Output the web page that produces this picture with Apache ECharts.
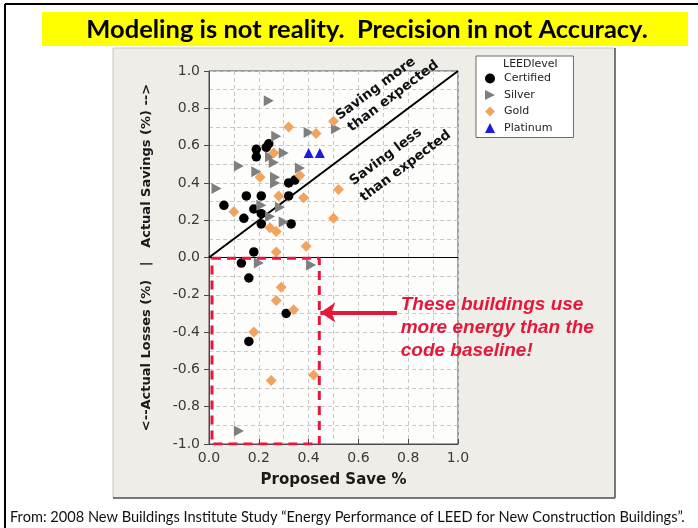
<!DOCTYPE html>
<html><head><meta charset="utf-8">
<script src="https://cdn.jsdelivr.net/npm/echarts@6/dist/echarts.min.js"></script>
<style>html,body{margin:0;padding:0;background:#fff}#c{width:698px;height:528px}</style>
</head><body><div id="c"></div>
<script>
const titleText = 'Modeling is not reality.  Precision in not Accuracy.';
const footerText = 'From: 2008 New Buildings Institute Study \u201cEnergy Performance of LEED for New Construction Buildings\u201d.';
const legendTitle = 'LEEDlevel';
const xAxisName = 'Proposed Save %';
const yAxisName = '<--Actual Losses (%)   |   Actual Savings (%) -->';
const seriesNames = ['Certified', 'Silver', 'Gold', 'Platinum'];

const certified = [[0.24,0.61],[0.23,0.59],[0.19,0.58],[0.19,0.54],[0.32,0.40],[0.345,0.415],
  [0.15,0.33],[0.21,0.33],[0.32,0.33],[0.06,0.28],[0.18,0.26],[0.21,0.235],[0.14,0.21],
  [0.21,0.18],[0.33,0.18],[0.18,0.03],[0.13,-0.03],[0.16,-0.11],[0.31,-0.30],[0.16,-0.45]];
const silver = [[0.24,0.84],[0.27,0.65],[0.40,0.67],[0.51,0.69],[0.30,0.56],[0.245,0.54],
  [0.26,0.51],[0.12,0.49],[0.19,0.46],[0.265,0.43],[0.265,0.40],[0.365,0.48],[0.03,0.37],
  [0.21,0.28],[0.285,0.27],[0.245,0.22],[0.30,0.19],[0.20,-0.03],[0.41,-0.04],[0.12,-0.93]];
const gold = [[0.32,0.70],[0.43,0.665],[0.50,0.73],[0.26,0.56],[0.205,0.43],[0.365,0.44],
  [0.52,0.365],[0.28,0.33],[0.38,0.32],[0.10,0.245],[0.50,0.21],[0.245,0.16],[0.27,0.14],
  [0.27,0.03],[0.39,0.06],[0.29,-0.16],[0.27,-0.23],[0.34,-0.28],[0.18,-0.40],[0.42,-0.63],[0.25,-0.66]];
const platinum = [[0.40,0.56],[0.445,0.56]];

const diagonal = [[0,0],[1,1]];
const zeroLine = [[0,0],[1,0]];
const lossBox = [[0.012,-0.004],[0.443,-0.004],[0.443,-1],[0.012,-1],[0.012,-0.004]];
const arrowLine = [[0.755,-0.295],[0.447,-0.295]];

const moreLabel = {lines:['Saving more','than expected'], at:[[0.67,0.905],[0.74,0.865]]};
const lessLabel = {lines:['Saving less','than expected'], at:[[0.71,0.54],[0.79,0.49]]};
const lossNote = {lines:['These buildings use','more energy than the','code baseline!'], at:[0.77,-0.255]};

const triRight = 'path://M0,0L10,5L0,10Z';
const RED = '#e5173a';
const gridStyle = {color:'#c9c9c9', width:1, type:[4,3]};

const chart = echarts.init(document.getElementById('c'), null, {renderer:'canvas'});
chart.setOption({
  animation:false,
  backgroundColor:'#ffffff',
  textStyle:{fontFamily:'DejaVu Sans'},
  grid:{left:209, top:71, width:249, height:373, show:true, backgroundColor:'#fdfdfc', borderColor:'#4a4a4a', borderWidth:1},
  xAxis:{type:'value', min:0, max:1, interval:0.2,
    name:xAxisName, nameLocation:'middle', nameGap:29,
    nameTextStyle:{fontFamily:'DejaVu Sans', fontWeight:'bold', fontSize:15, color:'#1a1a1a'},
    axisLine:{show:true, onZero:false, lineStyle:{color:'#4a4a4a'}},
    axisTick:{show:true, inside:true, length:5, lineStyle:{color:'#4a4a4a'}},
    axisLabel:{fontSize:14, color:'#3a3a3a', margin:7, formatter:v=>v.toFixed(1)},
    splitLine:{show:true, lineStyle:gridStyle},
    minorTick:{show:false, splitNumber:2},
    minorSplitLine:{show:true, lineStyle:gridStyle}},
  yAxis:{type:'value', min:-1, max:1, interval:0.2,
    name:yAxisName, nameLocation:'middle', nameGap:56, nameRotate:90,
    nameTextStyle:{fontFamily:'DejaVu Sans', fontWeight:'bold', fontSize:13, color:'#1a1a1a'},
    axisLine:{show:true, onZero:false, lineStyle:{color:'#4a4a4a'}},
    axisTick:{show:true, inside:false, length:5, lineStyle:{color:'#4a4a4a'}},
    axisLabel:{fontSize:14, color:'#3a3a3a', margin:9, formatter:v=>v.toFixed(1)},
    splitLine:{show:true, lineStyle:gridStyle},
    minorTick:{show:false, splitNumber:2},
    minorSplitLine:{show:true, lineStyle:gridStyle}},
  legend:{orient:'vertical', left:476, top:56, itemWidth:10, itemHeight:10, itemGap:3.5,
    padding:[16,21,3,9], backgroundColor:'#ffffff', borderColor:'#6a6a6a', borderWidth:1, borderRadius:0,
    selectedMode:false,
    textStyle:{fontFamily:'DejaVu Sans', fontSize:11, color:'#222', lineHeight:13, padding:[0,0,0,4]},
    data:[{name:seriesNames[0], icon:'circle'},{name:seriesNames[1], icon:triRight},
          {name:seriesNames[2], icon:'diamond'},{name:seriesNames[3], icon:'triangle'}]},
  series:[
    {type:'line', data:diagonal, symbol:'none', silent:true, z:1, lineStyle:{color:'#000', width:2}},
    {type:'line', data:zeroLine, symbol:'none', silent:true, z:1, lineStyle:{color:'#000', width:1}},
    {name:seriesNames[0], type:'scatter', data:certified, symbol:'circle', symbolSize:9.5, itemStyle:{color:'#000000', opacity:1}, z:3},
    {name:seriesNames[1], type:'scatter', data:silver, symbol:triRight, symbolSize:[10,11], itemStyle:{color:'#7f7f7f', opacity:1}, z:3},
    {name:seriesNames[2], type:'scatter', data:gold, symbol:'diamond', symbolSize:[11,11], itemStyle:{color:'#f2a35e', opacity:1}, z:3},
    {name:seriesNames[3], type:'scatter', data:platinum, symbol:'triangle', symbolSize:10, itemStyle:{color:'#1c1cdc', opacity:1}, z:3},
    {type:'line', data:lossBox, symbol:'none', silent:true, z:4, lineStyle:{color:RED, width:3, type:[9,6]}},
    {type:'lines', coordinateSystem:'cartesian2d', silent:true, z:4, symbol:['none','arrow'], symbolSize:15,
      lineStyle:{color:RED, width:4, opacity:1}, data:[{coords:arrowLine}]}
  ]
});

const ANG = Math.atan2(373/2, 249);
const g = [
  {type:'rect', z:-10, shape:{x:113, y:48, width:502, height:450}, style:{fill:'#efede7', stroke:'#c8c6c0', lineWidth:1}},
  {type:'line', z:-9, shape:{x1:615, y1:48, x2:615, y2:498}, style:{stroke:'#555', lineWidth:1.5}},
  {type:'line', z:-9, shape:{x1:113, y1:498, x2:615, y2:498}, style:{stroke:'#555', lineWidth:1.5}},
  {type:'line', z:-9, shape:{x1:5, y1:4, x2:698, y2:4}, style:{stroke:'#000', lineWidth:2}},
  {type:'line', z:-9, shape:{x1:5, y1:4, x2:5, y2:528}, style:{stroke:'#000', lineWidth:2}},
  {type:'rect', z:0, shape:{x:42, y:12, width:646, height:34}, style:{fill:'#ffff00'}},
  {type:'text', z:1, x:367, y:30, style:{text:titleText, font:'bold 25.5px Lato', fill:'#000', align:'center', verticalAlign:'middle'}},
  {type:'text', z:1, x:10, y:517, style:{text:footerText, font:'14.6px Lato', fill:'#111', align:'left', verticalAlign:'middle'}},
  {type:'text', z:10, x:503, y:64, style:{text:legendTitle, font:'11px "DejaVu Sans"', fill:'#222', align:'left', verticalAlign:'middle'}}
];
[moreLabel, lessLabel].forEach(lb => {
  lb.lines.forEach((t,i) => {
    const p = chart.convertToPixel({gridIndex:0}, lb.at[i]);
    g.push({type:'text', z:10, x:p[0], y:p[1], rotation:ANG,
      style:{text:t, font:'bold 13.5px "DejaVu Sans"', fill:'#111', align:'center', verticalAlign:'middle'}});
  });
});
const np = chart.convertToPixel({gridIndex:0}, lossNote.at);
lossNote.lines.forEach((t,i) => {
  g.push({type:'text', z:10, x:np[0], y:np[1] + i*23,
    style:{text:t, font:'italic bold 19px "Liberation Sans"', fill:RED, align:'left', verticalAlign:'middle'}});
});
chart.setOption({graphic:g});
</script></body></html>
